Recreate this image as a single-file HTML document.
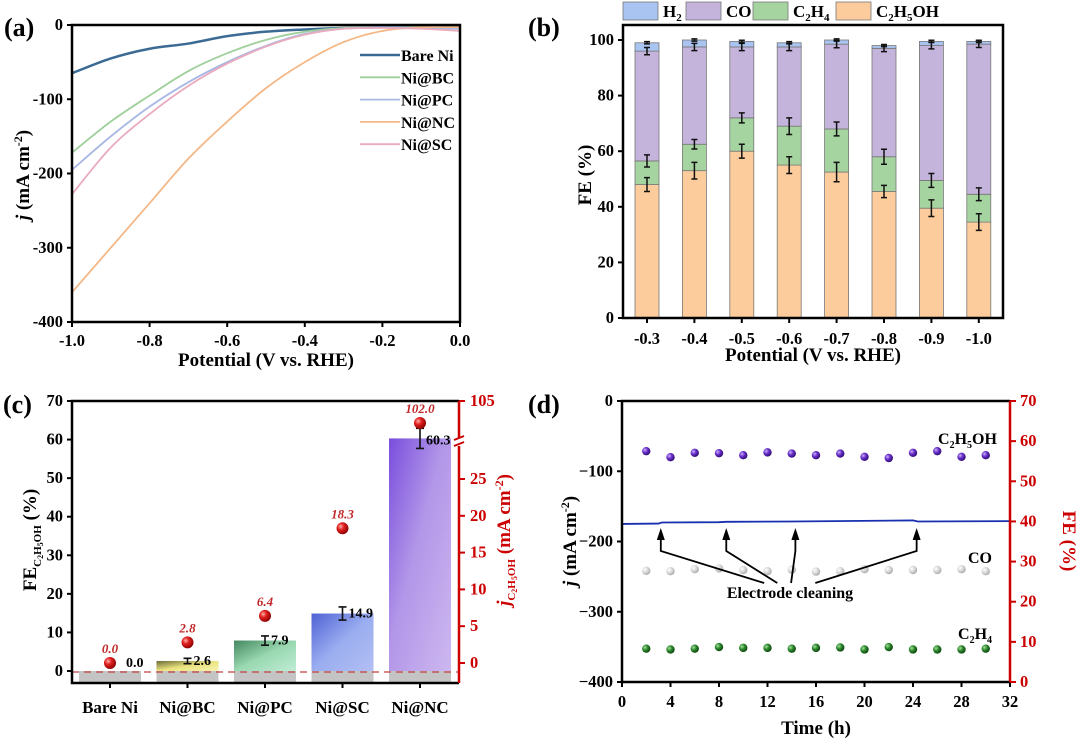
<!DOCTYPE html>
<html><head><meta charset="utf-8">
<style>
html,body{margin:0;padding:0;background:#fff;}
svg{display:block;font-family:"Liberation Serif",serif;font-weight:bold;}
</style></head>
<body>
<svg id="fig" width="1080" height="741" viewBox="0 0 1080 741">
<defs>
<linearGradient id="gBC" x1="0" y1="0" x2="1" y2="1"><stop offset="0" stop-color="#5a5a20"/><stop offset="0.5" stop-color="#e8e070"/><stop offset="1" stop-color="#f6f0a8"/></linearGradient>
<linearGradient id="gPC" x1="0" y1="0" x2="1" y2="1"><stop offset="0" stop-color="#2f7a4c"/><stop offset="0.5" stop-color="#8ed4a8"/><stop offset="1" stop-color="#b8ead0"/></linearGradient>
<linearGradient id="gSC" x1="0" y1="0" x2="1" y2="1"><stop offset="0" stop-color="#3c50d0"/><stop offset="0.5" stop-color="#8fa4ee"/><stop offset="1" stop-color="#aab8f2"/></linearGradient>
<linearGradient id="gNC" x1="0" y1="0" x2="1" y2="1"><stop offset="0" stop-color="#6a3ad8"/><stop offset="0.45" stop-color="#a98ae6"/><stop offset="1" stop-color="#c8b0ee"/></linearGradient>
<radialGradient id="rRed" cx="0.35" cy="0.35" r="0.7"><stop offset="0" stop-color="#ffb0a8"/><stop offset="0.4" stop-color="#e02020"/><stop offset="1" stop-color="#8a0000"/></radialGradient>
<radialGradient id="rPur" cx="0.35" cy="0.35" r="0.7"><stop offset="0" stop-color="#c8b0ff"/><stop offset="0.45" stop-color="#6a30c8"/><stop offset="1" stop-color="#2a0870"/></radialGradient>
<radialGradient id="rGray" cx="0.35" cy="0.35" r="0.7"><stop offset="0" stop-color="#ffffff"/><stop offset="0.5" stop-color="#d8d8d8"/><stop offset="1" stop-color="#a8a8a8"/></radialGradient>
<radialGradient id="rGrn" cx="0.35" cy="0.35" r="0.7"><stop offset="0" stop-color="#a8e0a0"/><stop offset="0.45" stop-color="#2e8a2e"/><stop offset="1" stop-color="#0a400a"/></radialGradient>
</defs>
</svg>
<script>
// ---------- Panel (a) data ----------
const aPotentials = [-1.0,-0.9,-0.8,-0.7,-0.6,-0.5,-0.4,-0.3,-0.2,-0.1,0.0];
const aBareNi = [-65,-45,-32,-25,-15,-9,-6,-4,-3,-3,-3];
const aNiBC = [-172,-130,-95,-62,-38,-20,-9,-4,-3,-3,-4];
const aNiPC = [-195,-150,-110,-77,-50,-28,-12,-5,-3,-4,-5];
const aNiNC = [-360,-300,-240,-180,-130,-85,-50,-23,-8,-3,-3];
const aNiSC = [-228,-165,-120,-82,-52,-29,-13,-5,-4,-5,-8];
const aXTicks = [-1.0,-0.8,-0.6,-0.4,-0.2,0.0];
const aYTicks = [0,-100,-200,-300,-400];
// ---------- Panel (b) data ----------
const bCategories = ["-0.3","-0.4","-0.5","-0.6","-0.7","-0.8","-0.9","-1.0"];
const bC2H5OH = [48,53,60,55,52.5,45.5,39.5,34.5];
const bC2H4 = [8.5,9.5,12,14,15.5,12.5,10,10];
const bCO = [39.5,35,25.5,28.5,30.5,39,48.5,54];
const bH2 = [3,2.5,2,1.5,1.5,1,1.5,1];
const bErrEt = [2.5,3,2.5,3,3.5,2.2,3,3];
const bErrC2 = [2.2,1.7,1.8,3,2.5,2.7,2.5,2.3];
const bErrCO = [1.3,1.3,1.3,1.3,1.3,1.2,1.2,1.2];
const bYTicks = [0,20,40,60,80,100];
// ---------- Panel (c) data ----------
const cCategories = ["Bare Ni","Ni@BC","Ni@PC","Ni@SC","Ni@NC"];
const cFE = [0.0,2.6,7.9,14.9,60.3];
const cFEErr = [0,0.7,1.2,1.7,2.6];
const cJ = [0.0,2.8,6.4,18.3,102.0];
const cJLabels = ["0.0","2.8","6.4","18.3","102.0"];
const cYTicks = [0,10,20,30,40,50,60,70];
const cRTicks = [0,5,10,15,20,25];
// ---------- Panel (d) data ----------
const dTimes = [2,4,6,8,10,12,14,16,18,20,22,24,26,28,30];
const dEtOH = [57.5,56.0,57.1,57.0,56.5,57.2,56.9,56.5,56.9,56.1,55.8,57.1,57.5,56.1,56.5];
const dCO = [27.7,27.6,28.1,28.3,27.9,27.6,28.0,27.5,27.6,28.1,27.9,27.9,27.9,28.1,27.6];
const dC2H4 = [8.3,8.1,8.3,8.7,8.5,8.5,8.3,8.5,8.6,8.1,8.7,8.1,8.1,8.1,8.3];
const dLineT = [0,3,3.3,8,8.6,14,24,24.4,32];
const dLineJ = [-175,-174.5,-173,-172.5,-172,-171.5,-170,-171.5,-171];
const dCleanT = [3.2,8.6,14.3,24.3];
const dXTicks = [0,4,8,12,16,20,24,28,32];
const dYTicks = [0,-100,-200,-300,-400];
const dRTicks = [0,10,20,30,40,50,60,70];

const NS="http://www.w3.org/2000/svg";
const svg=document.getElementById('fig');
function el(tag,attrs,parent,txt){const e=document.createElementNS(NS,tag);for(const k in attrs)e.setAttribute(k,attrs[k]);if(txt!==undefined)e.textContent=txt;(parent||svg).appendChild(e);return e;}
function lin(d0,d1,r0,r1){return v=>r0+(v-d0)*(r1-r0)/(d1-d0);}
function group(name){const g=el('g',{});return g;}
const TF=16.5;

// ================= Panel (a) =================
(function(){
const g=group('panel-a');
const X=lin(-1,0,72,460), Y=lin(0,-400,25,322);
const t=el('text',{x:4,y:36,'font-size':26},g,'(a)');
const series=[[aBareNi,'#3b6b94','Bare Ni',2.5],[aNiBC,'#9fcf9b','Ni@BC',1.8],[aNiPC,'#a8b8e4','Ni@PC',1.8],[aNiNC,'#f4b887','Ni@NC',1.8],[aNiSC,'#eaaabd','Ni@SC',1.8]];
series.forEach((s,i)=>{
 const pts=aPotentials.map((p,k)=>[X(p),Y(s[0][k])]);
 let d='M'+pts[0][0]+','+pts[0][1];
 for(let k=0;k<pts.length-1;k++){const p0=pts[Math.max(0,k-1)],p1=pts[k],p2=pts[k+1],p3=pts[Math.min(pts.length-1,k+2)];
  d+=` C${p1[0]+(p2[0]-p0[0])/6},${p1[1]+(p2[1]-p0[1])/6} ${p2[0]-(p3[0]-p1[0])/6},${p2[1]-(p3[1]-p1[1])/6} ${p2[0]},${p2[1]}`;}
 const p=el('path',{d:d,fill:'none',stroke:s[1],'stroke-width':s[3]},g);
 
 const ly=55+i*22.3;
 const ll=el('line',{x1:360,y1:ly,x2:400,y2:ly,stroke:s[1],'stroke-width':s[3]},g);
 
 const lt=el('text',{x:401,y:ly+6,'font-size':16},g,s[2]);
 
});
const fr=el('rect',{x:72,y:25,width:388,height:297,fill:'none',stroke:'#000','stroke-width':2.5},g);

aXTicks.forEach(v=>{el('line',{x1:X(v),y1:322,x2:X(v),y2:327,stroke:'#000','stroke-width':2},g);
 const tt=el('text',{x:X(v),y:346,'font-size':TF,'text-anchor':'middle'},g,v.toFixed(1));});
aYTicks.forEach(v=>{el('line',{x1:67,y1:Y(v),x2:72,y2:Y(v),stroke:'#000','stroke-width':2},g);
 const tt=el('text',{x:63,y:Y(v)+5,'font-size':TF,'text-anchor':'end'},g,String(v));});
const xl=el('text',{x:266,y:366,'font-size':19,'text-anchor':'middle'},g,'Potential (V vs. RHE)');
const yl=el('text',{transform:'translate(29,175) rotate(-90)','font-size':19,'text-anchor':'middle'},g);

el('tspan',{'font-style':'italic'},yl,'j');el('tspan',{},yl,' (mA cm');el('tspan',{'font-size':12,dy:-7},yl,'-2');el('tspan',{dy:7},yl,')');
})();

// ================= Panel (b) =================
(function(){
const g=group('panel-b');
const Y=lin(0,100,318,40); const X=i=>647+i*47.4; const bw=24;
const t=el('text',{x:528,y:36,'font-size':26},g,'(b)');
const cols={h2:'#a9c4f0',co:'#c4b4dc',c2:'#a6d4a0',et:'#fccc9c'};
bCategories.forEach((c,i)=>{
 const x=X(i)-bw/2;
 const s1=bC2H5OH[i], s2=s1+bC2H4[i], s3=s2+bCO[i], s4=s3+bH2[i];
 [[0,s1,cols.et,'bar-c2h5oh'],[s1,s2,cols.c2,'bar-c2h4'],[s2,s3,cols.co,'bar-co'],[s3,s4,cols.h2,'bar-h2']].forEach(b=>{
  const r=el('rect',{x:x,y:Y(b[1]),width:bw,height:Y(b[0])-Y(b[1]),fill:b[2],stroke:'#777','stroke-width':0.8},g);
  
 });
 [[s1,bErrEt[i]],[s2,bErrC2[i]],[s3,bErrCO[i]],[s4,0.4]].forEach(e=>{
  const cx=X(i);
  const eb=el('path',{d:`M${cx},${Y(e[0]-e[1])}V${Y(e[0]+e[1])}M${cx-3},${Y(e[0]-e[1])}h6M${cx-3},${Y(e[0]+e[1])}h6`,stroke:'#111','stroke-width':1.5,fill:'none'},g);
  
 });
 el('line',{x1:X(i),y1:318,x2:X(i),y2:323,stroke:'#000','stroke-width':2},g);
 const tt=el('text',{x:X(i),y:344,'font-size':TF,'text-anchor':'middle'},g,c);
});
const fr=el('rect',{x:623,y:25,width:380,height:293,fill:'none',stroke:'#000','stroke-width':2.5},g);

bYTicks.forEach(v=>{el('line',{x1:618,y1:Y(v),x2:623,y2:Y(v),stroke:'#000','stroke-width':2},g);
 const tt=el('text',{x:614,y:Y(v)+5,'font-size':TF,'text-anchor':'end'},g,String(v));});
const xl=el('text',{x:813,y:361,'font-size':19,'text-anchor':'middle'},g,'Potential (V vs. RHE)');
const yl=el('text',{transform:'translate(591,175) rotate(-90)','font-size':19,'text-anchor':'middle'},g,'FE (%)');
const leg=[[623,cols.h2,'H',[['2','']]],[686,cols.co,'CO',[]],[753,cols.c2,'C',[['2','H'],['4','']]],[836,cols.et,'C',[['2','H'],['5','OH']]]];
leg.forEach(l=>{
 const r=el('rect',{x:l[0],y:2,width:35,height:18,fill:l[1],stroke:'#777','stroke-width':0.8},g);
 const tx=el('text',{x:l[0]+40,y:17,'font-size':17},g);
 el('tspan',{},tx,l[2]);l[3].forEach(p=>{el('tspan',{'font-size':11,dy:4},tx,p[0]);if(p[1])el('tspan',{dy:-4},tx,p[1]);});
});
})();

// ================= Panel (c) =================
(function(){
const g=group('panel-c');
const Y=lin(0,70,671,401); const R=lin(0,25,663,479); const X=i=>110+i*77.5; const bw=62;
const t=el('text',{x:3,y:413,'font-size':26},g,'(c)');
const grads=['#bbb','url(#gBC)','url(#gPC)','url(#gSC)','url(#gNC)'];
cCategories.forEach((c,i)=>{
 const x=X(i)-bw/2;
 const gr=el('rect',{x:x,y:Y(0),width:bw,height:683-Y(0),fill:'#c4c4c4'},g);
 if(cFE[i]>0){const r=el('rect',{x:x,y:Y(cFE[i]),width:bw,height:Y(0)-Y(cFE[i]),fill:grads[i],opacity:0.9},g);
  }
 const ex=X(i);
 if(cFEErr[i]>0){const eb=el('path',{d:`M${ex},${Y(cFE[i]-cFEErr[i])}V${Y(cFE[i]+cFEErr[i])}M${ex-4},${Y(cFE[i]-cFEErr[i])}h8M${ex-4},${Y(cFE[i]+cFEErr[i])}h8`,stroke:'#111','stroke-width':1.6,fill:'none'},g);
  }
 const vl=el('text',{x:X(i)+(i==0?16:6),y:Y(cFE[i])+(i==0?-4:4)+(i==4?2:0),'font-size':14},g,cFE[i].toFixed(1));
 const jy = cJ[i]>25 ? 423 : R(cJ[i]);
 const pt=el('circle',{cx:X(i),cy:jy,r:6,fill:'url(#rRed)'},g);
 const jl=el('text',{x:X(i),y:jy-10,'font-size':13,'font-style':'italic',fill:'#c0282a','text-anchor':'middle'},g,cJLabels[i]);
 el('line',{x1:X(i),y1:683,x2:X(i),y2:688,stroke:'#000','stroke-width':2},g);
 const tt=el('text',{x:X(i),y:713,'font-size':17,'text-anchor':'middle'},g,c);
});
const dl=el('line',{x1:72,y1:672,x2:459,y2:672,stroke:'#c04040','stroke-width':1.3,'stroke-dasharray':'7,5'},g);
const fr=el('path',{d:'M459,401H72V683H459',fill:'none',stroke:'#000','stroke-width':2.5},g);
const ra=el('path',{d:'M459,401V438M459,446V683',fill:'none',stroke:'#c00','stroke-width':2.5},g);
el('path',{d:'M454,440l10,-4M454,446l10,-4',stroke:'#c00','stroke-width':2},g);
cYTicks.forEach(v=>{el('line',{x1:67,y1:Y(v),x2:72,y2:Y(v),stroke:'#000','stroke-width':2},g);
 const tt=el('text',{x:63,y:Y(v)+5,'font-size':TF,'text-anchor':'end'},g,String(v));});
cRTicks.forEach(v=>{el('line',{x1:459,y1:R(v),x2:465,y2:R(v),stroke:'#c00','stroke-width':2},g);
 const tt=el('text',{x:470,y:R(v)+5,'font-size':TF,fill:'#c00'},g,String(v));});
el('line',{x1:459,y1:401,x2:465,y2:401,stroke:'#c00','stroke-width':2},g);
const t105=el('text',{x:470,y:406,'font-size':TF,fill:'#c00'},g,'105');
const yl=el('text',{transform:'translate(36,540) rotate(-90)','font-size':19,'text-anchor':'middle'},g);
el('tspan',{},yl,'FE');el('tspan',{'font-size':11,dy:5},yl,'C');el('tspan',{'font-size':8,dy:2},yl,'2');el('tspan',{'font-size':11,dy:-2},yl,'H');el('tspan',{'font-size':8,dy:2},yl,'5');el('tspan',{'font-size':11,dy:-2},yl,'OH');el('tspan',{dy:-5},yl,' (%)');
const ry=el('text',{transform:'translate(510,540) rotate(-90)','font-size':19,'text-anchor':'middle',fill:'#c00'},g);
el('tspan',{'font-style':'italic'},ry,'j');el('tspan',{'font-size':11,dy:5},ry,'C');el('tspan',{'font-size':8,dy:2},ry,'2');el('tspan',{'font-size':11,dy:-2},ry,'H');el('tspan',{'font-size':8,dy:2},ry,'5');el('tspan',{'font-size':11,dy:-2},ry,'OH');el('tspan',{dy:-5},ry,' (mA cm');el('tspan',{'font-size':12,dy:-7},ry,'-2');el('tspan',{dy:7},ry,')');
})();

// ================= Panel (d) =================
(function(){
const g=group('panel-d');
const X=lin(0,32,622,1010), Y=lin(0,-400,401,682), R=lin(0,70,682,401);
const t=el('text',{x:528,y:413,'font-size':26},g,'(d)');
const ln=el('polyline',{points:dLineT.map((v,i)=>X(v)+','+Y(dLineJ[i])).join(' '),fill:'none',stroke:'#1830b0','stroke-width':1.8},g);

[[dEtOH,'url(#rPur)','point-c2h5oh'],[dCO,'url(#rGray)','point-co'],[dC2H4,'url(#rGrn)','point-c2h4']].forEach(s=>{
 dTimes.forEach((tm,i)=>{const c=el('circle',{cx:X(tm),cy:R(s[0][i]),r:4.2,fill:s[1]},g);});
});
const tx=(727+853)/2, ty=583;
dCleanT.forEach(tc=>{
 const x=X(tc), y0=Y(-178)+2, y1=551;
 const a=el('path',{d:`M${x},${y0+10}V${y1}L${tx+(x-tx)*0.2},${ty}`,fill:'none',stroke:'#000','stroke-width':1.8},g);
 
 el('path',{d:`M${x},${y0}l-4,12h8z`,fill:'#000'},g);
});
const et=el('text',{x:tx,y:598,'font-size':16,'text-anchor':'middle'},g,'Electrode cleaning');
const l1=el('text',{x:938,y:444,'font-size':16},g);
el('tspan',{},l1,'C');el('tspan',{'font-size':10,dy:4},l1,'2');el('tspan',{dy:-4},l1,'H');el('tspan',{'font-size':10,dy:4},l1,'5');el('tspan',{dy:-4},l1,'OH');
const l2=el('text',{x:968,y:563,'font-size':16},g,'CO');
const l3=el('text',{x:958,y:639,'font-size':16},g);
el('tspan',{},l3,'C');el('tspan',{'font-size':10,dy:4},l3,'2');el('tspan',{dy:-4},l3,'H');el('tspan',{'font-size':10,dy:4},l3,'4');
const fr=el('path',{d:'M1010,401H622V682H1010',fill:'none',stroke:'#000','stroke-width':2.5},g);
el('line',{x1:1010,y1:401,x2:1010,y2:682,stroke:'#c00','stroke-width':2.5},g);
dXTicks.forEach(v=>{el('line',{x1:X(v),y1:682,x2:X(v),y2:687,stroke:'#000','stroke-width':2},g);
 const tt=el('text',{x:X(v),y:707,'font-size':TF,'text-anchor':'middle'},g,String(v));});
dYTicks.forEach(v=>{el('line',{x1:617,y1:Y(v),x2:622,y2:Y(v),stroke:'#000','stroke-width':2},g);
 const tt=el('text',{x:613,y:Y(v)+5,'font-size':TF,'text-anchor':'end'},g,v===0?'0':'\u2212'+Math.abs(v));});
dRTicks.forEach(v=>{el('line',{x1:1010,y1:R(v),x2:1016,y2:R(v),stroke:'#c00','stroke-width':2},g);
 const tt=el('text',{x:1020,y:R(v)+5,'font-size':TF,fill:'#c00'},g,String(v));});
const xl=el('text',{x:816,y:734,'font-size':19,'text-anchor':'middle'},g,'Time (h)');
const yl=el('text',{transform:'translate(576,541) rotate(-90)','font-size':19,'text-anchor':'middle'},g);
el('tspan',{'font-style':'italic'},yl,'j');el('tspan',{},yl,' (mA cm');el('tspan',{'font-size':12,dy:-7},yl,'-2');el('tspan',{dy:7},yl,')');
const ry=el('text',{transform:'translate(1063,541) rotate(90)','font-size':19,'text-anchor':'middle',fill:'#c00'},g,'FE (%)');
})();
</script>
</body></html>
